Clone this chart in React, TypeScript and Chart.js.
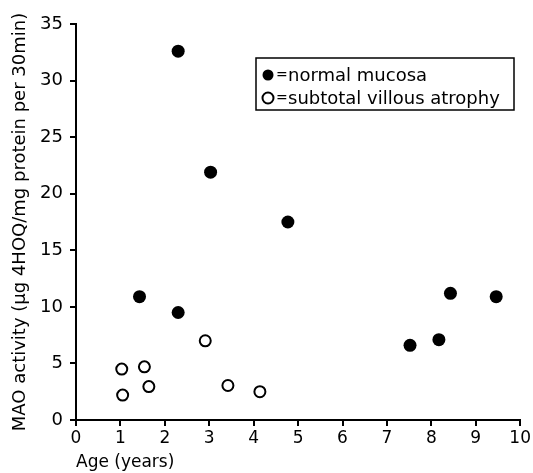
import React, { useEffect, useRef } from "react";
import { Chart, registerables } from "chart.js";

Chart.register(...registerables);

const normalAge = [2.3, 3.03, 4.77, 1.43, 2.3, 7.52, 8.17, 8.43, 9.46];
const normalMao = [32.6, 21.9, 17.5, 10.9, 9.5, 6.6, 7.1, 11.2, 10.9];
const atrophyAge = [1.03, 1.05, 1.54, 1.64, 2.91, 3.42, 4.14];
const atrophyMao = [4.5, 2.2, 4.7, 2.95, 7.0, 3.05, 2.5];
const seriesLabels = ["normal mucosa", "subtotal villous atrophy"];
const xTitle = "Age (years)";
const yTitle = "MAO activity (µg 4HOQ/mg protein per 30min)";

const FONT = "'DejaVu Sans', sans-serif";

const legendBox = {
  id: "legendBox",
  afterDraw(chart: any) {
    const ctx = chart.ctx;
    const x0 = 256, y0 = 58, w = 258, h = 52;
    ctx.save();
    ctx.strokeStyle = "#000";
    ctx.lineWidth = 1.5;
    ctx.strokeRect(x0, y0, w, h);
    ctx.font = `18px ${FONT}`;
    ctx.textBaseline = "middle";
    ctx.fillStyle = "#000";
    const rows = [75, 98];
    chart.data.datasets.forEach((ds: any, i: number) => {
      const cy = rows[i];
      ctx.beginPath();
      ctx.arc(268, cy, 5.5, 0, Math.PI * 2);
      if (i === 0) {
        ctx.fillStyle = "#000";
        ctx.fill();
      } else {
        ctx.fillStyle = "#fff";
        ctx.fill();
        ctx.lineWidth = 2;
        ctx.strokeStyle = "#000";
        ctx.stroke();
      }
      ctx.fillStyle = "#000";
      ctx.font = `14px ${FONT}`;
      ctx.fillText("=", 276, cy);
      ctx.font = `18px ${FONT}`;
      ctx.fillText(ds.label, 288, cy + 1);
    });
    ctx.restore();
  },
};

export default function App() {
  const ref = useRef<HTMLCanvasElement>(null);
  useEffect(() => {
    document.body.style.margin = "0";
    const chart = new Chart(ref.current!, {
      type: "scatter",
      data: {
        datasets: [
          {
            label: seriesLabels[0],
            data: normalAge.map((x, i) => ({ x, y: normalMao[i] })),
            backgroundColor: "#000",
            borderColor: "#000",
            pointRadius: 6.5,
            borderWidth: 0,
          },
          {
            label: seriesLabels[1],
            data: atrophyAge.map((x, i) => ({ x, y: atrophyMao[i] })),
            backgroundColor: "#fff",
            borderColor: "#000",
            pointRadius: 5.5,
            borderWidth: 2,
          },
        ],
      },
      plugins: [legendBox],
      options: {
        responsive: false,
        animation: false,
        layout: { padding: { top: 24, right: 10, left: 10, bottom: 0 } },
        plugins: { legend: { display: false }, tooltip: { enabled: false } },
        scales: {
          x: {
            type: "linear",
            min: 0,
            max: 10,
            afterFit: (s: any) => { s.height = 53; },
            ticks: { stepSize: 1, color: "#000", font: { family: FONT, size: 17 }, padding: 2, maxRotation: 0 },
            grid: { drawOnChartArea: false, drawTicks: true, tickLength: 6, color: "#000", lineWidth: 2 },
            border: { color: "#000", width: 2 },
            title: { display: true, text: xTitle, align: "start", color: "#000", font: { family: FONT, size: 17 }, padding: { top: 1, bottom: 0 } },
          },
          y: {
            type: "linear",
            min: 0,
            max: 35,
            afterFit: (s: any) => { s.width = 66; },
            ticks: { stepSize: 5, color: "#000", font: { family: FONT, size: 18 }, padding: 7 },
            grid: { drawOnChartArea: false, drawTicks: true, tickLength: 6, color: "#000", lineWidth: 2 },
            border: { color: "#000", width: 2 },
            title: { display: true, text: yTitle, color: "#000", font: { family: FONT, size: 18 }, padding: { top: 0, bottom: 4 } },
          },
        },
      },
    } as any);
    return () => chart.destroy();
  }, []);
  return <canvas ref={ref} width={533} height={473} style={{ display: "block" }} />;
}
